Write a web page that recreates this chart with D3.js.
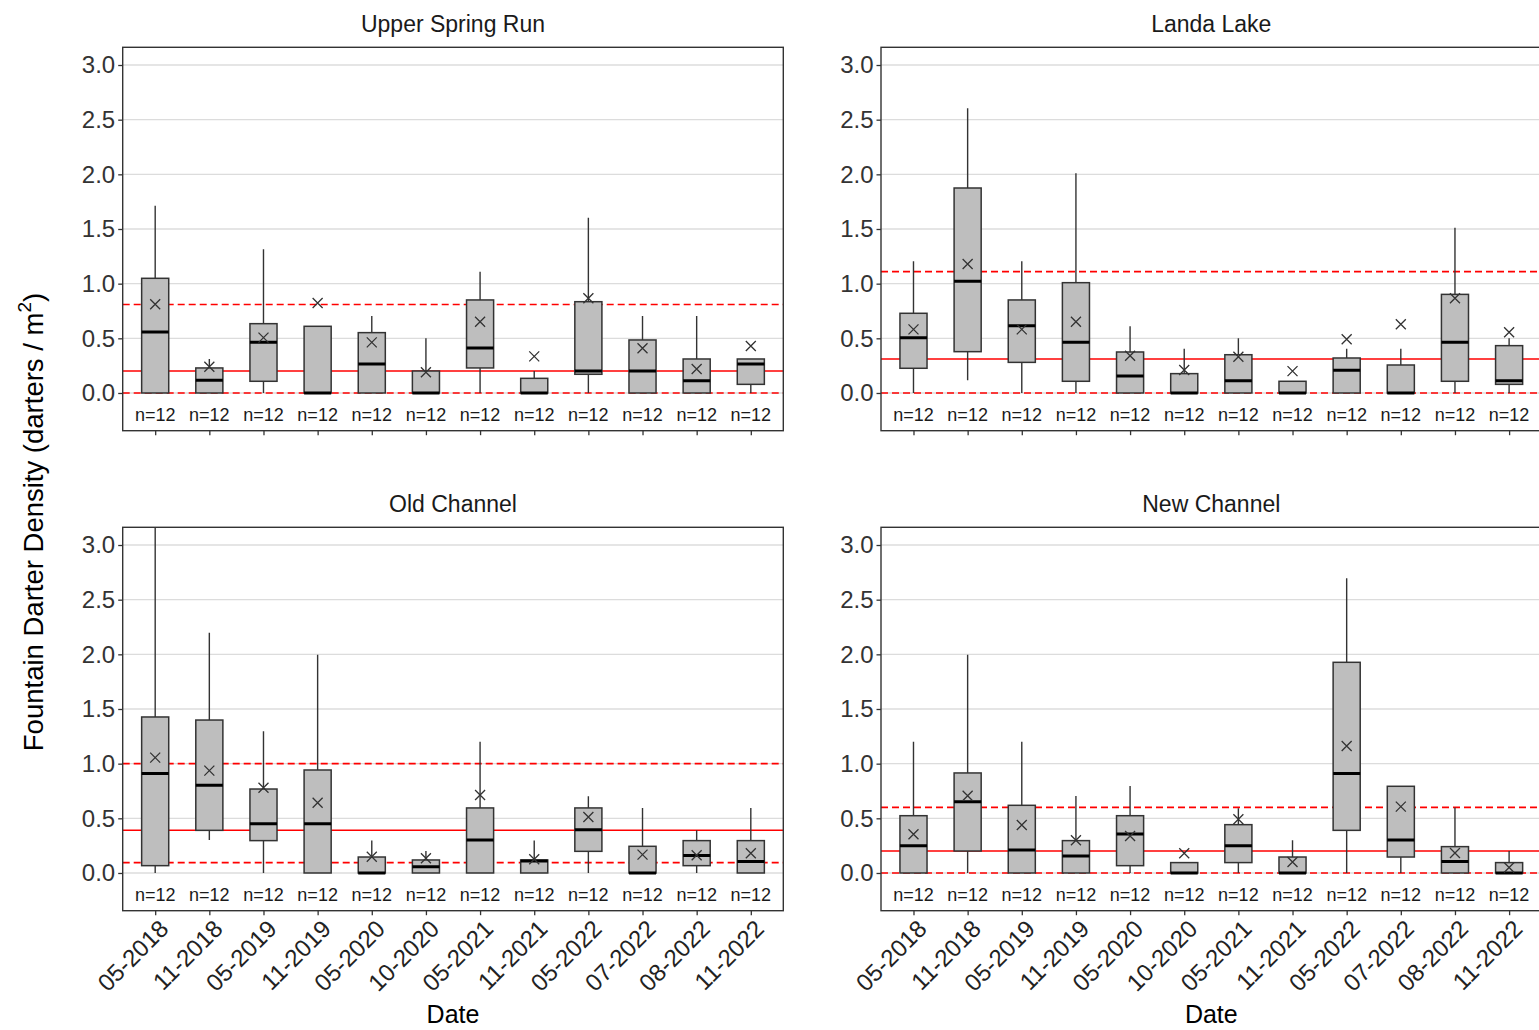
<!DOCTYPE html>
<html><head><meta charset="utf-8">
<script src="https://cdn.jsdelivr.net/npm/d3@7"></script>
<style>
html,body{margin:0;padding:0;background:#fff;}
svg{display:block;font-family:"Liberation Sans",Arial,sans-serif;}
</style></head>
<body>
<svg id="chart" width="1539" height="1030"></svg>
<script>
const dates = ["05-2018","11-2018","05-2019","11-2019","05-2020","10-2020","05-2021","11-2021","05-2022","07-2022","08-2022","11-2022"];
const yTicks = [0, 0.5, 1.0, 1.5, 2.0, 2.5, 3.0];
const nLabels = ["n=12","n=12","n=12","n=12","n=12","n=12","n=12","n=12","n=12","n=12","n=12","n=12"];

// Upper Spring Run
const usrLo   = [0,0,0,0,0,0,0,0,0,0,0,0];
const usrQ1   = [0,0,0.107,0,0,0,0.229,0,0.171,0,0,0.079];
const usrMed  = [0.558,0.116,0.463,0,0.265,0,0.412,0,0.201,0.2,0.113,0.265];
const usrQ3   = [1.049,0.229,0.634,0.61,0.552,0.201,0.851,0.134,0.835,0.485,0.311,0.311];
const usrHi   = [1.713,0.31,1.314,0.61,0.704,0.5,1.11,0.2,1.604,0.704,0.704,0.311];
const usrMean = [0.811,0.24,0.506,0.823,0.463,0.19,0.652,0.335,0.866,0.409,0.22,0.43];
const usrRef  = [0.2, 0.81, 0];

// Landa Lake
const llLo   = [0,0.116,0,0,0,0,0,0,0,0,0,0];
const llQ1   = [0.226,0.378,0.28,0.107,0,0,0,0,0,0,0.107,0.079];
const llMed  = [0.506,1.021,0.616,0.463,0.155,0,0.113,0,0.207,0,0.463,0.113];
const llQ3   = [0.729,1.875,0.851,1.009,0.375,0.177,0.35,0.107,0.32,0.256,0.902,0.433];
const llHi   = [1.204,2.604,1.204,2.009,0.61,0.405,0.5,0.107,0.405,0.405,1.512,0.5];
const llMean = [0.582,1.18,0.582,0.652,0.341,0.21,0.332,0.2,0.491,0.628,0.866,0.555];
const llRef  = [0.31, 1.11, 0];

// Old Channel
const ocLo   = [0,0.302,0,0,0,0,0,0,0,0,0,0];
const ocQ1   = [0.067,0.39,0.296,0,0,0,0,0,0.198,0,0.067,0];
const ocMed  = [0.909,0.802,0.451,0.451,0,0.058,0.302,0.11,0.396,0,0.159,0.104];
const ocQ3   = [1.427,1.399,0.768,0.942,0.146,0.119,0.595,0.119,0.595,0.244,0.296,0.296];
const ocHi   = [3.4,2.198,1.296,1.997,0.296,0.2,1.2,0.296,0.701,0.595,0.39,0.595];
const ocMean = [1.055,0.936,0.78,0.643,0.149,0.134,0.713,0.125,0.512,0.168,0.162,0.18];
const ocRef  = [0.39, 1.0, 0.095];

// New Channel
const ncLo   = [0,0,0,0,0,0,0,0,0,0,0,0];
const ncQ1   = [0,0.201,0,0,0.067,0,0.095,0,0.39,0.146,0,0];
const ncMed  = [0.25,0.652,0.21,0.155,0.357,0,0.25,0,0.909,0.302,0.104,0];
const ncQ3   = [0.524,0.915,0.619,0.296,0.524,0.095,0.442,0.146,1.927,0.793,0.241,0.095];
const ncHi   = [1.2,1.997,1.2,0.704,0.796,0.095,0.591,0.299,2.695,0.793,0.598,0.201];
const ncMean = [0.354,0.707,0.439,0.299,0.338,0.18,0.491,0.1,1.162,0.607,0.183,0.05];
const ncRef  = [0.2, 0.6, 0];

const sites = [
  {title:"Upper Spring Run", lo:usrLo, q1:usrQ1, med:usrMed, q3:usrQ3, hi:usrHi, mean:usrMean, ref:usrRef, col:0, row:0},
  {title:"Landa Lake", lo:llLo, q1:llQ1, med:llMed, q3:llQ3, hi:llHi, mean:llMean, ref:llRef, col:1, row:0},
  {title:"Old Channel", lo:ocLo, q1:ocQ1, med:ocMed, q3:ocQ3, hi:ocHi, mean:ocMean, ref:ocRef, col:0, row:1},
  {title:"New Channel", lo:ncLo, q1:ncQ1, med:ncMed, q3:ncQ3, hi:ncHi, mean:ncMean, ref:ncRef, col:1, row:1}
];

const svg = d3.select("#chart");
svg.append("rect").attr("width",1539).attr("height",1030).attr("fill","#fff");

const colX = [122.7, 881];
const rowY = [47.3, 527.3];
const pw = 660.6, ph = 383.4;
const dark = "#333333";

sites.forEach((s, i) => {
  const x0 = colX[s.col], y0 = rowY[s.row];
  const g = svg.append("g").attr("transform", `translate(${x0},${y0})`);
  const x = d3.scalePoint().domain(dates).range([0, pw]).padding(0.6);
  const y = d3.scaleLinear().domain([-0.345, 3.162]).range([ph, 0]);
  const bw = x.step() * 0.5;

  const clipId = "clip" + i;
  g.append("clipPath").attr("id", clipId).append("rect").attr("width", pw).attr("height", ph);
  const body = g.append("g").attr("clip-path", `url(#${clipId})`);

  body.selectAll("line.grid").data(yTicks).join("line")
    .attr("x1",0).attr("x2",pw).attr("y1",d=>y(d)).attr("y2",d=>y(d))
    .attr("stroke","#dcdcdc").attr("stroke-width",1.3);

  body.append("line").attr("x1",0).attr("x2",pw).attr("y1",y(s.ref[0])).attr("y2",y(s.ref[0]))
    .attr("stroke","#ff0000").attr("stroke-width",1.5);
  [s.ref[1], s.ref[2]].forEach(v => {
    body.append("line").attr("x1",0).attr("x2",pw).attr("y1",y(v)).attr("y2",y(v))
      .attr("stroke","#ff0000").attr("stroke-width",1.6).attr("stroke-dasharray","7,4");
  });

  dates.forEach((d, k) => {
    const cx = x(d);
    if (s.hi[k] > s.q3[k]) body.append("line").attr("x1",cx).attr("x2",cx).attr("y1",y(s.hi[k])).attr("y2",y(s.q3[k])).attr("stroke",dark).attr("stroke-width",1.4);
    if (s.lo[k] < s.q1[k]) body.append("line").attr("x1",cx).attr("x2",cx).attr("y1",y(s.lo[k])).attr("y2",y(s.q1[k])).attr("stroke",dark).attr("stroke-width",1.4);
    body.append("rect").attr("x",cx-bw/2).attr("width",bw)
      .attr("y",y(s.q3[k])).attr("height",Math.max(0,y(s.q1[k])-y(s.q3[k])))
      .attr("fill","#bebebe").attr("stroke",dark).attr("stroke-width",1.5);
    body.append("line").attr("x1",cx-bw/2).attr("x2",cx+bw/2).attr("y1",y(s.med[k])).attr("y2",y(s.med[k]))
      .attr("stroke","#000").attr("stroke-width",3);
    const my = y(s.mean[k]), r = 5;
    body.append("path").attr("d",`M${cx-r},${my-r}L${cx+r},${my+r}M${cx-r},${my+r}L${cx+r},${my-r}`)
      .attr("stroke",dark).attr("stroke-width",1.3).attr("fill","none");
    body.append("text").attr("x",cx).attr("y",y(-0.2)).attr("dy","0.36em")
      .attr("text-anchor","middle").attr("font-size",18).attr("fill","#1a1a1a").text(nLabels[k]);
  });

  g.append("rect").attr("width",pw).attr("height",ph).attr("fill","none").attr("stroke",dark).attr("stroke-width",1.4);

  const ya = g.append("g").call(d3.axisLeft(y).tickValues(yTicks).tickSize(4.5).tickPadding(3).tickFormat(d3.format(".1f")));
  ya.select(".domain").remove();
  ya.selectAll(".tick line").attr("stroke",dark).attr("stroke-width",1.3);
  ya.selectAll(".tick text").attr("font-size",24).attr("fill","#333").attr("font-family","Liberation Sans, Arial, sans-serif");

  const xa = g.append("g").attr("transform",`translate(0,${ph})`).call(d3.axisBottom(x).tickSize(4.5).tickFormat(""));
  xa.select(".domain").remove();
  xa.selectAll(".tick line").attr("stroke",dark).attr("stroke-width",1.3);

  if (s.row === 1) {
    g.selectAll("text.xl").data(dates).join("text").attr("class","xl")
      .attr("transform", d => `translate(${x(d)+2},${ph+7}) rotate(-45)`)
      .attr("text-anchor","end").attr("dy","0.75em")
      .attr("font-size",24).attr("fill","#222").text(d=>d);
    g.append("text").attr("x",pw/2).attr("y",ph+112).attr("text-anchor","middle")
      .attr("font-size",25).attr("fill","#000").text("Date");
  }

  g.append("text").attr("x",pw/2).attr("y",-15).attr("text-anchor","middle")
    .attr("font-size",23).attr("fill","#1a1a1a").text(s.title);
});

const yt = svg.append("text").attr("transform","translate(43,522) rotate(-90)")
  .attr("text-anchor","middle").attr("font-size",27.5).attr("fill","#000");
yt.append("tspan").text("Fountain Darter Density (darters / m");
yt.append("tspan").attr("font-size",19).attr("dy","-12").text("2");
yt.append("tspan").attr("dy","12").text(")");
</script>
</body></html>
